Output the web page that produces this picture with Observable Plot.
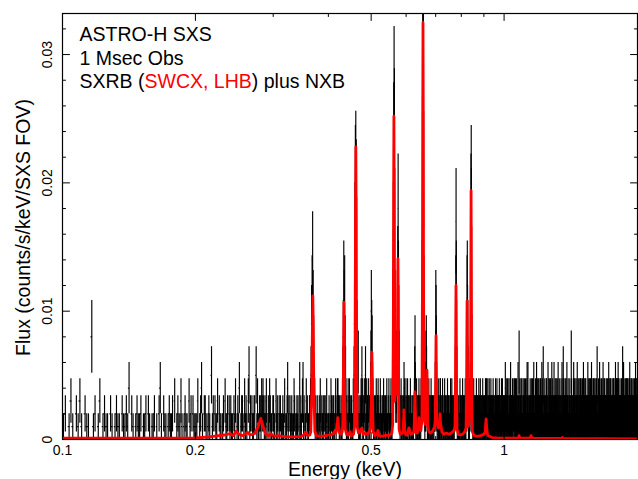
<!DOCTYPE html>
<html><head><meta charset="utf-8">
<script src="https://cdn.jsdelivr.net/npm/d3@7"></script>
<script src="https://cdn.jsdelivr.net/npm/@observablehq/plot@0.6"></script>
<style>body{margin:0;background:#fff;}</style>
</head><body><div id="chart"></div>
<script>
// ---------- DATA ----------
// SXS spectrum: 1 eV bins from 0.1 keV; one count per bin = 0.001 counts/s/keV (1 Ms).
const binStart = 0.1;      // keV
const binWidth = 0.001;    // keV
const fluxPerCount = 0.001;
// counts per bin, base-36 digits; one row per 0.1 keV (100 bins)
const countRows = [
"1201310213 1021108120 1301211021 0121102112 1402101211 2011202101 1201024102 1101211203 0121131012 1103120211",
"1130124102 2101210512 0211302110 1203112021 2110213012 1401220131 2103512021 1220513112 2132321213 1021321102",
"2110312102 1201121031 0124120211 2101320112 1201412103 4120113021 1022359bea 7431201211 0213102112 1202113101",
"1201132012 2110231023 3221210211 358cab7531 2103123021 120113259g kljf842612 1021325312 1230251132 2103121246",
"a874321021 1203112231 2101321102 1213021120 2130112031 1021310125 agnroha536 436adic963 2120312102 1124312013",
"2101312021 1203120112 1021203574 2113021201 2321102132 36cmuwslb6 3122467532 1021130212 2103121021 1201202246",
"a974212013 1201123310 2112031201 1203112102 0121301121 2011203112 1302112021 1202359bhc 8531201210 2110312021",
"1201130212 0211203121 2358bc9852 1102130248 dikhd74221 0213102112 1201231021 2110213012 1203112102 0121301121",
"1021201312 3321021130 2112031201 1203102112 2011321021 1120213012 0213112102 1201230121 2110213102 1302112021",
"0121014201 1320112031 2101132012 0131421102 1210301120 0231023101 1302110310 2011241210 1621031012 0130113201",
"1102310210 2311020131 0210113421 1041201102 0121031201 2130112103 1201302411 0112021310 2011410201 1302132112",
"0211231031 1201102420 3011205102 1102013201 0120213031 2101120410 1030211231 2110301021 0241120130 1201021412",
"1021130120 2131201103 0112041201 1203101120 2011032101 1142110213 1520131021 0211231102 1301120410 2012103011",
"1201102130 2011020116 0312011201 1020131402 2110231310 0121102012 1302411210 2101130102 0211321203 1120310211",
"2011302101 1241021130 0210113201 1312010211 2101201410 0121310210 1132021031 2011102420 1030211201 0212311302",
"1102130120 2010231031 1201520110 0211031202 1120142113 2101211020 0131021102 1210341210 2011203101 1302110212",
"0211021301 1203110210 2011241302 1102013110 0312101201 2110230112 1021132031 0112301210 2101021411 1201130231",
"2101120310 0241301021 1302102110 2011021203 1120310212 0211051021 1302411210 2110201301 0121130120 2011321103",
"1201031102 2110210311 0213041201 1021201130 2301120210 1102013102 0211201311 1201310210 2011421203 1310201120"
];
// Model (SWCX + LHB + NXB), [energy keV, flux in 1e-3 counts/s/keV]
const modelCurve = [
[0.100,0.10],[0.200,0.12],[0.215,0.20],[0.232,0.35],[0.2395,0.45],[0.2435,0.30],[0.2475,0.65],[0.2510,0.40],[0.2560,0.30],[0.2628,0.55],[0.2660,0.35],[0.2720,0.45],[0.2775,1.00],[0.2812,1.65],[0.2845,1.05],[0.2885,0.40],[0.2935,0.30],[0.2965,0.45],[0.3000,0.25],[0.3080,0.30],[0.3200,0.20],[0.3350,0.20],[0.3480,0.25],[0.3530,0.40],[0.3556,0.55],[0.3590,0.30],[0.3630,0.35],
[0.3650,0.6],[0.3670,4.0],[0.3680,8.5],[0.3689,11.2],[0.3698,8.5],[0.3708,4.0],[0.3728,0.6],
[0.3760,0.30],[0.3850,0.25],[0.3950,0.30],[0.4050,0.35],[0.4120,0.5],
[0.4140,0.7],[0.4160,0.5],[0.4190,1.2],[0.4203,1.7],[0.4218,1.1],[0.4240,0.5],[0.4270,0.4],[0.4300,0.6],
[0.4310,1.0],[0.4325,4.0],[0.4332,8.0],[0.4338,10.7],[0.4345,8.0],[0.4352,4.0],[0.4368,0.8],
[0.4400,0.4],[0.4440,0.35],[0.4475,0.6],[0.4505,0.3],[0.4560,0.4],
[0.4585,1.0],[0.4600,8.0],[0.4608,17.5],[0.4616,22.8],[0.4624,17.5],[0.4632,8.0],[0.4648,1.0],
[0.4680,0.5],[0.4720,0.6],[0.4765,0.9],[0.4800,0.4],[0.4850,0.5],[0.4900,0.4],[0.4960,0.6],
[0.4985,1.0],[0.5003,3.0],[0.5011,5.5],[0.5019,6.8],[0.5027,5.5],[0.5035,3.0],[0.5053,0.6],
[0.5100,0.3],[0.5150,0.4],[0.5179,0.7],[0.5210,0.3],[0.5300,0.25],[0.5400,0.35],[0.5500,0.3],[0.5570,0.5],
[0.5595,1.2],[0.5613,9.0],[0.5622,19.5],[0.5630,25.2],[0.5638,19.5],[0.5647,9.0],[0.5660,3.0],
[0.5680,5.0],[0.5690,6.5],[0.5700,4.5],
[0.5720,3.5],[0.5732,6.0],[0.5741,11.0],[0.5749,14.1],[0.5757,11.0],[0.5766,5.0],[0.5785,0.8],
[0.5820,0.4],[0.5880,0.5],[0.5905,0.6],[0.5922,1.6],[0.5933,2.3],[0.5944,1.6],[0.5962,0.5],
[0.6020,0.3],[0.6089,0.9],[0.6150,0.4],[0.6230,0.5],
[0.6255,0.8],[0.6272,2.5],[0.6283,3.7],[0.6294,2.5],[0.6312,0.6],
[0.6360,0.5],[0.6400,1.1],[0.6416,1.7],[0.6432,1.1],[0.6480,0.7],
[0.6515,1.5],[0.6533,12.0],[0.6543,25.0],[0.6552,32.5],[0.6561,25.0],[0.6571,12.0],[0.6590,2.0],
[0.6620,1.2],[0.6660,1.5],[0.6678,4.0],[0.6689,5.4],[0.6700,4.0],[0.6718,1.0],
[0.6760,0.6],[0.6820,0.5],[0.6900,0.7],[0.6960,1.0],
[0.6985,1.5],[0.7003,5.5],[0.7013,8.1],[0.7023,5.5],[0.7041,1.3],
[0.7100,0.9],[0.7145,1.4],[0.7161,2.0],[0.7177,1.3],[0.7230,0.6],
[0.7300,0.4],[0.7400,0.5],[0.7500,0.4],[0.7600,0.5],[0.7700,0.7],
[0.7740,1.0],[0.7762,4.5],[0.7772,9.0],[0.7782,12.0],[0.7792,9.0],[0.7802,4.5],[0.7825,0.8],
[0.7880,0.4],[0.7950,0.35],[0.8050,0.4],[0.8150,0.6],[0.8200,0.9],
[0.8222,3.5],[0.8235,8.0],[0.8245,10.8],[0.8255,8.0],[0.8268,3.5],[0.8290,1.0],
[0.8320,1.2],[0.8392,3.0],[0.8407,12.0],[0.8419,19.4],[0.8431,12.0],[0.8446,3.0],[0.8475,0.6],
[0.8550,0.3],[0.8700,0.25],[0.8850,0.3],[0.9000,0.4],
[0.9060,0.6],[0.9090,1.3],[0.9105,1.6],[0.9120,1.2],[0.9160,0.5],[0.9200,0.3],
[0.9400,0.15],[0.9700,0.1],[1.0500,0.1],[1.0780,0.12],[1.0815,0.3],[1.0850,0.1],[1.1460,0.1],[1.1510,0.3],[1.1560,0.1],[1.3500,0.08],[1.3550,0.15],[1.3600,0.08],[2.0000,0.05]
];
const xMajorTicks = [0.1, 0.2, 0.5, 1];
const xTickLabels = ["0.1", "0.2", "0.5", "1"];
const xMinorTicks = [0.3, 0.4, 0.6, 0.7, 0.8, 0.9];
const yMajorTicks = [0, 0.01, 0.02, 0.03];
const yTickLabels = ["0", "0.01", "0.02", "0.03"];
const yMinorTicks = [0.002,0.004,0.006,0.008,0.012,0.014,0.016,0.018,0.022,0.024,0.026,0.028,0.032];
const xLabel = "Energy (keV)";
const yLabel = "Flux (counts/s/keV/SXS FOV)";
const titleLines = ["ASTRO-H SXS", "1 Msec Obs", "SXRB (SWCX, LHB) plus NXB"];
const line3Parts = ["SXRB (", "SWCX, LHB", ") plus NXB"];

// ---------- BUILD ----------
const bins = [];
countRows.forEach((row, r) => {
  const s = row.replace(/\s/g, "");
  for (let j = 0; j < s.length; j++) {
    const c = parseInt(s[j], 36);
    if (!(c > 0)) continue;
    const e = binStart + (r * 100 + j + 0.5) * binWidth;
    const f = c * fluxPerCount, err = Math.sqrt(c) * fluxPerCount;
    bins.push({e, e0: e - binWidth / 2, e1: e + binWidth / 2, f, lo: f - err, hi: f + err});
  }
});
const model = modelCurve.map(([e, f]) => ({e, f: f * 1e-3}));

const tickShape = {draw(ctx, l) { ctx.moveTo(0, 0); ctx.lineTo(0, -l); }};
const tick = (data, opts) => Plot.vector(data, {anchor: "start", shape: tickShape, stroke: "black", strokeWidth: 1, ...opts});
const font = "'Liberation Sans', Arial, Helvetica, sans-serif";
const txt = {textAnchor: "middle", lineAnchor: "middle", fill: "black"};

const plot = Plot.plot({
  width: 638, height: 479,
  marginLeft: 62, marginRight: 1, marginTop: 13, marginBottom: 40,
  x: {type: "log", domain: [0.1, 2.005], axis: null},
  y: {domain: [0, 0.0332], axis: null},
  style: {fontFamily: font, background: "white", color: "black"},
  marks: [
    Plot.ruleX(bins, {x: "e", y1: "lo", y2: "hi", stroke: "black", strokeWidth: 1.15, clip: true}),
    Plot.ruleY(bins, {y: "f", x1: "e0", x2: "e1", stroke: "black", strokeWidth: 1.15, clip: true}),
    Plot.line(model, {x: "e", y: "f", stroke: "#ff0000", strokeWidth: 2.8, clip: true}),
    Plot.frame({stroke: "black", strokeWidth: 1.2}),
    tick(xMajorTicks, {x: d => d, frameAnchor: "bottom", rotate: 0, length: 7}),
    tick(xMinorTicks, {x: d => d, frameAnchor: "bottom", rotate: 0, length: 3}),
    tick(xMajorTicks, {x: d => d, frameAnchor: "top", rotate: 180, length: 7}),
    tick(xMinorTicks, {x: d => d, frameAnchor: "top", rotate: 180, length: 3}),
    tick(yMajorTicks, {y: d => d, frameAnchor: "left", rotate: 90, length: 7}),
    tick(yMinorTicks, {y: d => d, frameAnchor: "left", rotate: 90, length: 3}),
    tick(yMajorTicks, {y: d => d, frameAnchor: "right", rotate: 270, length: 7}),
    tick(yMinorTicks, {y: d => d, frameAnchor: "right", rotate: 270, length: 3}),
    Plot.text(xMajorTicks, {...txt, x: d => d, frameAnchor: "bottom", dy: 11, text: (d, i) => xTickLabels[i], fontSize: 14}),
    Plot.text(yMajorTicks, {...txt, y: d => d, frameAnchor: "left", dx: -14.5, rotate: -90, text: (d, i) => yTickLabels[i], fontSize: 14}),
    Plot.text([xLabel], {...txt, frameAnchor: "bottom", dx: -5, dy: 30, text: d => d, fontSize: 19.5}),
    Plot.text([yLabel], {...txt, frameAnchor: "left", dx: -39, dy: 1, rotate: -90, text: d => d, fontSize: 19.5}),
    ...titleLines.map((t, i) => Plot.text([t], {...txt, textAnchor: "start", frameAnchor: "top-left", dx: 17, dy: 21 + i * 23.8, text: d => d, fontSize: 19.5}))
  ]
});

for (const t of plot.querySelectorAll("text")) {
  if (t.textContent === titleLines[2]) {
    while (t.firstChild) t.removeChild(t.firstChild);
    line3Parts.forEach((p, i) => {
      const ts = document.createElementNS("http://www.w3.org/2000/svg", "tspan");
      ts.textContent = p;
      if (i === 1) ts.setAttribute("fill", "#ff0000");
      t.appendChild(ts);
    });
  }
}
document.getElementById("chart").append(plot);
</script>
</body></html>
